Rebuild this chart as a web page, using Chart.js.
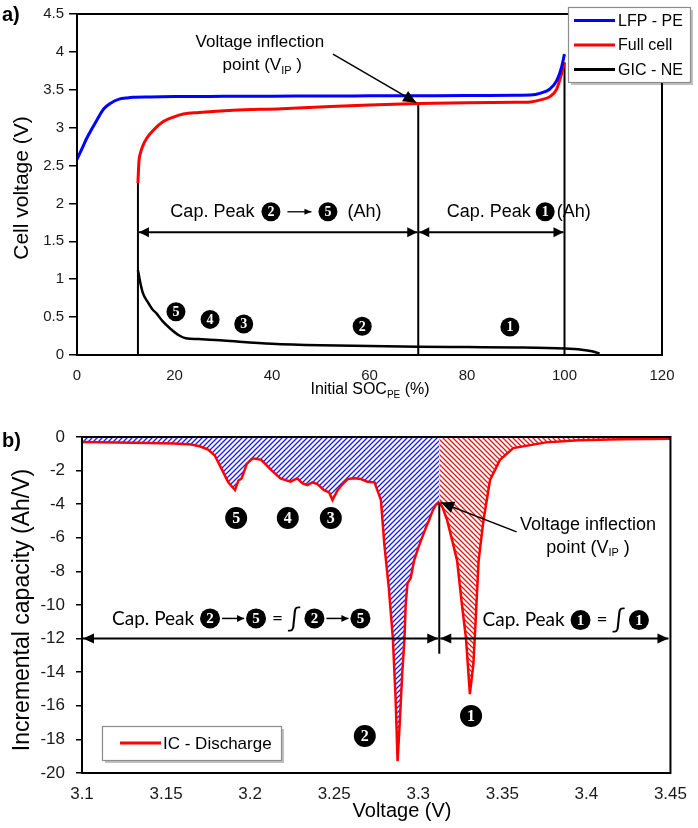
<!DOCTYPE html>
<html><head><meta charset="utf-8">
<script src="https://cdn.jsdelivr.net/npm/chart.js@4.4.1/dist/chart.umd.min.js"></script>
<style>
html,body{margin:0;padding:0;background:#fff;}
#wrap{position:relative;width:698px;height:828px;overflow:hidden;}
.pane{position:absolute;left:0;width:698px;}
</style></head><body>
<div id="wrap">
<div class="pane" style="top:0;height:410px"><canvas id="ca" width="698" height="410"></canvas></div>
<div class="pane" style="top:410px;height:418px"><canvas id="cb" width="698" height="418"></canvas></div>
</div>
<script>
// ---------------- Panel a data ----------------
const socLFP = [0,1,2,3,4,4.7,5.5,6.8,8.8,10,11.5,15,20,30,40,50,60,70,80,90,93,95.3,97,98.4,99.4,100];
const vLFP   = [2.58,2.72,2.86,2.98,3.09,3.17,3.25,3.32,3.38,3.39,3.40,3.405,3.41,3.413,3.415,3.418,3.42,3.422,3.424,3.428,3.43,3.46,3.51,3.62,3.80,3.97];
const socFull = [12.5,12.7,13,13.5,14.3,15.7,17.7,19.8,21.8,25,32,42,52,60,70,80,90,93,95.3,97,98.4,99.4,100];
const vFull   = [2.27,2.55,2.66,2.76,2.86,2.97,3.08,3.14,3.18,3.20,3.23,3.25,3.28,3.30,3.32,3.33,3.335,3.34,3.37,3.41,3.51,3.71,3.86];
const socGIC = [12.5,13,13.5,14.5,15.5,16.3,17.5,19.1,20.9,22.3,25,30,40,50,60,70,80,90,100,103.5,105.6,107.2];
const vGIC   = [1.12,0.95,0.82,0.70,0.60,0.55,0.45,0.35,0.26,0.22,0.21,0.19,0.15,0.13,0.12,0.11,0.105,0.10,0.085,0.07,0.05,0.02];
const aSeriesNames = ['LFP - PE','Full cell','GIC - NE'];
const aXTicks = [0,20,40,60,80,100,120];
const aYTicks = [0,0.5,1,1.5,2,2.5,3,3.5,4,4.5];
const socStart = 12.5, socIP = 70, socEnd = 100;
const aPeakIds = ['5','4','3','2','1'];
const aPeakSOC = [20.3,27.3,34.2,58.5,88.8];
const aPeakV   = [0.57,0.47,0.41,0.38,0.37];

// ---------------- Panel b data ----------------
const icVoltage = [3.100,3.120,3.140,3.155,3.165,3.170,3.175,3.179,3.183,3.187,3.191,3.193,3.195,3.198,3.2015,3.2066,3.2125,3.218,3.224,3.228,3.231,3.234,3.237,3.240,3.244,3.247,3.249,3.252,3.255,3.258,3.262,3.266,3.2697,3.274,3.2778,3.2798,3.2825,3.2849,3.2865,3.2877,3.289,3.2905,3.2918,3.2925,3.2936,3.2955,3.2975,3.300,3.3024,3.3045,3.3064,3.3085,3.3103,3.3125,3.3145,3.3172,3.3207,3.3231,3.326,3.3284,3.3307,3.3328,3.3341,3.3359,3.3388,3.3427,3.3486,3.3565,3.376,3.3957,3.42,3.45];
const icCapacity = [-0.30,-0.32,-0.35,-0.38,-0.45,-0.55,-0.75,-1.1,-1.9,-2.7,-3.16,-2.6,-2.45,-1.6,-1.27,-1.36,-1.96,-2.46,-2.66,-2.46,-2.75,-2.86,-2.7,-2.8,-3.16,-3.3,-3.76,-3.16,-2.8,-2.5,-2.45,-2.5,-2.66,-2.7,-3.76,-6.36,-9.0,-12.0,-15.5,-19.3,-17.0,-14.0,-12.0,-10.0,-8.7,-8.4,-7.36,-6.6,-5.96,-5.4,-4.96,-4.4,-4.06,-3.86,-4.2,-4.96,-6.36,-7.36,-10.0,-12.0,-15.3,-13.5,-11.0,-7.36,-4.96,-2.56,-1.36,-0.66,-0.32,-0.20,-0.14,-0.10];
const bSeriesName = 'IC - Discharge';
const bXTicks = [3.1,3.15,3.2,3.25,3.3,3.35,3.4,3.45];
const bYTicks = [0,-2,-4,-6,-8,-10,-12,-14,-16,-18,-20];
const vIP = 3.3125;
const bPeakIds = ['5','4','3','2','1'];
const bPeakV   = [3.1917,3.2224,3.248,3.2682,3.3314];
const bPeakIC  = [-4.82,-4.82,-4.82,-17.8,-16.6];

// ---------------- helpers ----------------
const FONT = "'Liberation Sans', Arial, 'DejaVu Sans', sans-serif";
const CAL = "Lato, 'Open Sans', 'DejaVu Sans', sans-serif";
const pts = (xs, ys) => xs.map((x, i) => ({x, y: ys[i]}));

function hatch(color, dir, s, lw) {
  const c = document.createElement('canvas'); c.width = s; c.height = s;
  const g = c.getContext('2d'); g.strokeStyle = color; g.lineWidth = lw;
  g.beginPath();
  if (dir > 0) {
    g.moveTo(0, s); g.lineTo(s, 0);
    g.moveTo(-s/2, s/2); g.lineTo(s/2, -s/2);
    g.moveTo(s/2, s*1.5); g.lineTo(s*1.5, s/2);
  } else {
    g.moveTo(0, 0); g.lineTo(s, s);
    g.moveTo(-s/2, s/2); g.lineTo(s/2, s*1.5);
    g.moveTo(s/2, -s/2); g.lineTo(s*1.5, s/2);
  }
  g.stroke();
  return g.createPattern(c, 'repeat');
}

function seg(ctx, x1, y1, x2, y2) { ctx.beginPath(); ctx.moveTo(x1, y1); ctx.lineTo(x2, y2); ctx.stroke(); }
function head(ctx, x1, y1, x2, y2, len, hw) {
  const a = Math.atan2(y2 - y1, x2 - x1);
  ctx.beginPath();
  ctx.moveTo(x2, y2);
  ctx.lineTo(x2 - len*Math.cos(a) + hw*Math.sin(a), y2 - len*Math.sin(a) - hw*Math.cos(a));
  ctx.lineTo(x2 - len*Math.cos(a) - hw*Math.sin(a), y2 - len*Math.sin(a) + hw*Math.cos(a));
  ctx.closePath(); ctx.fill();
}
function arrow(ctx, x1, y1, x2, y2, len, hw, both) {
  seg(ctx, x1, y1, x2, y2);
  head(ctx, x1, y1, x2, y2, len, hw);
  if (both) head(ctx, x2, y2, x1, y1, len, hw);
}
function circNum(ctx, x, y, r, t) {
  ctx.save();
  ctx.fillStyle = '#000';
  ctx.beginPath(); ctx.arc(x, y, r, 0, Math.PI*2); ctx.fill();
  ctx.fillStyle = '#fff';
  ctx.font = 'bold ' + Math.round(r*1.45) + "px 'Liberation Serif', 'DejaVu Serif', serif";
  ctx.textAlign = 'center'; ctx.textBaseline = 'middle';
  ctx.fillText(t, x, y + r*0.08);
  ctx.restore();
}
// parts: {t:text} {s:subscript} {c:circled digit} {a:arrow width} {g:gap}
function rich(ctx, parts, cx, cy, o) {
  const f = o.size + 'px ' + o.family;
  const fs = Math.round(o.size*0.62) + 'px ' + o.family;
  const ws = parts.map(p => {
    if (p.c) return 2*o.r + 2;
    if (p.a) return p.a;
    if (p.g !== undefined) return p.g;
    ctx.font = p.big ? Math.round(o.size*1.3) + 'px ' + o.family : (p.s ? fs : f);
    return ctx.measureText(p.t || p.s).width;
  });
  const total = ws.reduce((a, b) => a + b, 0);
  let x = cx - total/2;
  ctx.save();
  ctx.fillStyle = '#000'; ctx.strokeStyle = '#000'; ctx.textAlign = 'left'; ctx.textBaseline = 'middle';
  parts.forEach((p, i) => {
    if (p.c) circNum(ctx, x + ws[i]/2, cy, o.r, p.c);
    else if (p.a) { ctx.lineWidth = o.alw || 1.2; arrow(ctx, x + 1, cy, x + p.a - 1, cy, o.ahl || 6, o.ahw || 3, false); }
    else if (p.g !== undefined) { /* gap */ }
    else {
      ctx.font = p.big ? Math.round(o.size*1.3) + 'px ' + o.family : (p.s ? fs : f);
      ctx.fillText(p.t || p.s, x, p.s ? cy + o.size*0.3 : cy);
    }
    x += ws[i];
  });
  ctx.restore();
}
function rotText(ctx, text, x, y, font) {
  ctx.save(); ctx.translate(x, y); ctx.rotate(-Math.PI/2);
  ctx.font = font; ctx.fillStyle = '#000'; ctx.textAlign = 'center'; ctx.textBaseline = 'middle';
  ctx.fillText(text, 0, 0); ctx.restore();
}
function legendBox(ctx, x, y, w, h, items, o) {
  ctx.save();
  ctx.fillStyle = 'rgba(0,0,0,0.25)'; ctx.fillRect(x + 3, y + 3, w, h);
  ctx.fillStyle = '#fff'; ctx.fillRect(x, y, w, h);
  ctx.strokeStyle = '#8c8c8c'; ctx.lineWidth = 1.2; ctx.strokeRect(x + 0.5, y + 0.5, w, h);
  ctx.font = o.size + 'px ' + FONT; ctx.textAlign = 'left'; ctx.textBaseline = 'middle';
  items.forEach((it, i) => {
    const yy = y + o.first + i*o.step;
    ctx.strokeStyle = it.color; ctx.lineWidth = 3; seg(ctx, x + o.l0, yy, x + o.l1, yy);
    ctx.fillStyle = '#000'; ctx.fillText(it.label, x + o.tx, yy + 1);
  });
  ctx.restore();
}

// ---------------- Panel a ----------------
const annotA = {
  id: 'annotA',
  beforeDatasetsDraw(chart) {
    const {ctx, scales: {x, y}} = chart;
    const X = v => x.getPixelForValue(v), Y = v => y.getPixelForValue(v);
    ctx.save(); ctx.strokeStyle = '#000'; ctx.fillStyle = '#000'; ctx.lineWidth = 2;
    const topAt = s => vFull[socFull.indexOf(s)];
    [socStart, socIP, socEnd].forEach(s => seg(ctx, X(s), Y(0), X(s), Y(topAt(s))));
    ctx.lineWidth = 2;
    arrow(ctx, X(socStart) + 1, Y(1.62), X(socIP) - 1, Y(1.62), 10, 5, true);
    arrow(ctx, X(socIP) + 1, Y(1.62), X(socEnd) - 1, Y(1.62), 10, 5, true);
    ctx.restore();
  },
  afterDraw(chart) {
    const {ctx, chartArea: ca, scales: {x, y}} = chart;
    const X = v => x.getPixelForValue(v), Y = v => y.getPixelForValue(v);
    ctx.save();
    ctx.strokeStyle = '#000'; ctx.fillStyle = '#000'; ctx.lineWidth = 2;
    ctx.strokeRect(ca.left, ca.top, ca.right - ca.left, ca.bottom - ca.top);
    // inflection arrow
    ctx.lineWidth = 1.5;
    seg(ctx, X(52.5), Y(3.97), X(69.6), Y(3.33));
    head(ctx, X(52.5), Y(3.97), X(69.6), Y(3.33), 13, 6);
    rich(ctx, [{t: 'Voltage inflection'}], X(37.5), Y(4.12), {size: 17, family: FONT, r: 6});
    rich(ctx, [{t: 'point (V'}, {s: 'IP'}, {t: ' )'}], X(38), Y(3.82), {size: 17, family: FONT, r: 6});
    rich(ctx, [{t: 'Cap. Peak'}, {g: 6}, {c: '2'}, {g: 5}, {a: 26}, {g: 5}, {c: '5'}, {g: 9}, {t: '(Ah)'}], X(40.8), Y(1.89),
      {size: 18, family: FONT, r: 9.5, alw: 1.3, ahl: 7, ahw: 3});
    rich(ctx, [{t: 'Cap. Peak'}, {g: 4}, {c: '1'}, {g: 1}, {t: '(Ah)'}], X(90.6), Y(1.89), {size: 18, family: FONT, r: 9.5});
    aPeakIds.forEach((id, i) => circNum(ctx, X(aPeakSOC[i]), Y(aPeakV[i]), 9.5, id));
    // titles
    ctx.font = 'bold 20px ' + FONT; ctx.textAlign = 'left'; ctx.textBaseline = 'middle';
    ctx.fillText('a)', 2, 15);
    rotText(ctx, 'Cell voltage (V)', 22, 188, '21px ' + FONT);
    rich(ctx, [{t: 'Initial SOC'}, {s: 'PE'}, {t: ' (%)'}], 370, 390, {size: 16, family: FONT, r: 6});
    legendBox(ctx, 568, 7, 122, 75, chart.data.datasets.map(d => ({label: d.label, color: d.borderColor})),
      {size: 16, first: 13.5, step: 24.5, l0: 6, l1: 47, tx: 50});
    ctx.restore();
  }
};

const chartA = new Chart(document.getElementById('ca'), {
  type: 'line',
  data: {
    datasets: [
      {label: aSeriesNames[0], data: pts(socLFP, vLFP), borderColor: '#0000ff', borderWidth: 3},
      {label: aSeriesNames[1], data: pts(socFull, vFull), borderColor: '#ff0000', borderWidth: 3},
      {label: aSeriesNames[2], data: pts(socGIC, vGIC), borderColor: '#000000', borderWidth: 2.5}
    ].map(d => Object.assign(d, {pointRadius: 0, fill: false, cubicInterpolationMode: 'monotone'}))
  },
  options: {
    responsive: false, animation: false, devicePixelRatio: 1,
    layout: {padding: {left: 0, right: 36, top: 11, bottom: 0}},
    plugins: {legend: {display: false}, tooltip: {enabled: false}},
    scales: {
      x: {
        type: 'linear', min: 0, max: 120,
        afterFit(s) { s.height = 55; },
        afterBuildTicks(s) { s.ticks = aXTicks.map(v => ({value: v})); },
        grid: {display: false, drawTicks: false}, border: {display: false},
        ticks: {font: {size: 15, family: FONT}, color: '#1a1a1a', padding: 12, maxRotation: 0, autoSkip: false, callback: v => String(v)}
      },
      y: {
        type: 'linear', min: 0, max: 4.5,
        afterFit(s) { s.width = 77; },
        afterBuildTicks(s) { s.ticks = aYTicks.map(v => ({value: v})); },
        grid: {drawOnChartArea: false, drawTicks: true, tickLength: 8, color: '#000', lineWidth: 1.5},
        border: {display: false},
        ticks: {font: {size: 15, family: FONT}, color: '#1a1a1a', padding: 5, autoSkip: false, callback: v => String(v)}
      }
    }
  },
  plugins: [annotA]
});

// ---------------- Panel b ----------------
const ctxB = document.getElementById('cb').getContext('2d');
const blueHatch = hatch('#1a1aff', 1, 5, 1.3);
const redHatch = hatch('#e01818', -1, 5, 1.3);
const icAll = pts(icVoltage, icCapacity);
const icLow = icAll.filter(p => p.x <= vIP);
const icHigh = icAll.filter(p => p.x >= vIP);

const annotB = {
  id: 'annotB',
  afterDraw(chart) {
    const {ctx, chartArea: ca, scales: {x, y}} = chart;
    const X = v => x.getPixelForValue(v), Y = v => y.getPixelForValue(v);
    ctx.save();
    ctx.strokeStyle = '#000'; ctx.fillStyle = '#000'; ctx.lineWidth = 2;
    ctx.strokeRect(ca.left, ca.top, ca.right - ca.left, ca.bottom - ca.top);
    // V_IP vertical line and capacity arrows
    ctx.lineWidth = 2;
    seg(ctx, X(vIP), Y(-12.9), X(vIP), Y(-3.95));
    arrow(ctx, X(3.1) + 1, Y(-12), X(vIP) - 1, Y(-12), 11, 5, true);
    arrow(ctx, X(vIP) + 1, Y(-12), X(3.45) - 2, Y(-12), 11, 5, true);
    // inflection annotation
    ctx.lineWidth = 1.5;
    seg(ctx, X(3.3585), Y(-5.65), X(3.3135), Y(-3.9));
    head(ctx, X(3.3585), Y(-5.65), X(3.3135), Y(-3.9), 13, 6);
    rich(ctx, [{t: 'Voltage inflection'}], X(3.401), Y(-5.24), {size: 18, family: FONT, r: 6});
    rich(ctx, [{t: 'point (V'}, {s: 'IP'}, {t: ' )'}], X(3.401), Y(-6.61), {size: 18, family: FONT, r: 6});
    rich(ctx, [{t: 'Cap. Peak '}, {c: '2'}, {a: 24}, {c: '5'}, {t: ' = '}, {t: '\u222B', big: true}, {g: 3}, {c: '2'}, {a: 24}, {c: '5'}], X(3.195), Y(-10.8),
      {size: 19, family: CAL, r: 10, alw: 1.5, ahl: 7, ahw: 3.5});
    rich(ctx, [{t: 'Cap. Peak '}, {c: '1'}, {t: ' = '}, {t: '\u222B', big: true}, {g: 3}, {c: '1'}], X(3.388), Y(-10.9), {size: 19, family: CAL, r: 10});
    bPeakIds.forEach((id, i) => circNum(ctx, X(bPeakV[i]), Y(bPeakIC[i]), 11, id));
    // titles
    ctx.font = 'bold 20px ' + FONT; ctx.textAlign = 'left'; ctx.textBaseline = 'middle';
    ctx.fillText('b)', 2, 31);
    rotText(ctx, 'Incremental capacity (Ah/V)', 23, 200, '23px ' + FONT);
    ctx.font = '20px ' + FONT; ctx.textAlign = 'center';
    ctx.fillText('Voltage (V)', 402, 401);
    legendBox(ctx, 102, 316, 179, 34, [{label: chart.data.datasets[0].label, color: chart.data.datasets[0].borderColor}],
      {size: 17, first: 17, step: 0, l0: 18, l1: 59, tx: 61});
    ctx.restore();
  }
};

const chartB = new Chart(ctxB, {
  type: 'line',
  data: {
    datasets: [
      {label: bSeriesName, data: icLow, borderColor: '#ff0000', borderWidth: 2.5, backgroundColor: blueHatch, fill: 'origin'},
      {label: bSeriesName, data: icHigh, borderColor: '#ff0000', borderWidth: 2.5, backgroundColor: redHatch, fill: 'origin'}
    ].map(d => Object.assign(d, {pointRadius: 0, tension: 0}))
  },
  options: {
    responsive: false, animation: false, devicePixelRatio: 1,
    layout: {padding: {left: 0, right: 23, top: 27, bottom: 0}},
    plugins: {legend: {display: false}, tooltip: {enabled: false}},
    scales: {
      x: {
        type: 'linear', min: 3.1, max: 3.45,
        afterFit(s) { s.height = 55; },
        afterBuildTicks(s) { s.ticks = bXTicks.map(v => ({value: v})); },
        grid: {display: false, drawTicks: false}, border: {display: false},
        ticks: {font: {size: 17, family: FONT}, color: '#1a1a1a', padding: 11, maxRotation: 0, autoSkip: false, callback: v => String(+v.toFixed(2))}
      },
      y: {
        type: 'linear', min: -20, max: 0,
        afterFit(s) { s.width = 82; },
        afterBuildTicks(s) { s.ticks = bYTicks.map(v => ({value: v})); },
        grid: {drawOnChartArea: false, drawTicks: true, tickLength: 6, color: '#000', lineWidth: 1.5},
        border: {display: false},
        ticks: {font: {size: 17, family: FONT}, color: '#1a1a1a', padding: 11, autoSkip: false, callback: v => String(v)}
      }
    }
  },
  plugins: [annotB]
});
</script>
</body></html>
